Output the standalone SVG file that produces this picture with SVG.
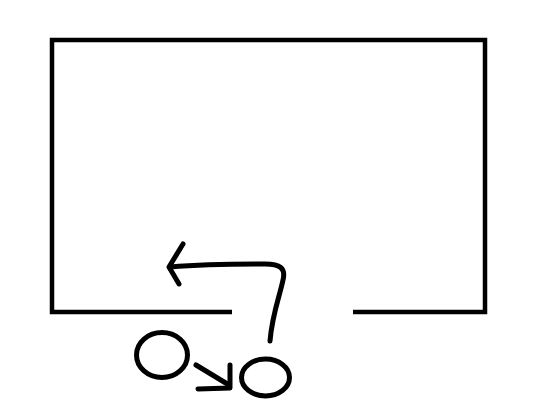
<svg xmlns="http://www.w3.org/2000/svg" width="554" height="403" viewBox="0 0 554 403">
<style>
.s{fill:none;stroke:#000;stroke-width:4.5;stroke-linecap:butt;stroke-linejoin:miter}
.h{fill:none;stroke:#000;stroke-width:5;stroke-linecap:round;stroke-linejoin:round}
</style>
<rect width="554" height="403" fill="#fff"/>
<g id="room">
<path class="s" d="M232 312 H52 V40 H485 V312 H353"/>
</g>
<g id="nodeA"><ellipse class="h" cx="162" cy="355" rx="25.5" ry="22.5"/></g>
<g id="nodeB"><ellipse class="h" cx="265.5" cy="377.5" rx="24" ry="18.5"/></g>
<g id="connectors">
<path class="h" d="M270 341 C272 315 280 295 283 280 C286 268 280 264 265 264 C230 264 195 265 170 267"/>
<path class="h" d="M183 244 L169 267 L179 284"/>
<path class="h" d="M196 365 L229 385"/>
<path class="h" d="M198 389 L230 388 L230 365"/>
</g>
</svg>
